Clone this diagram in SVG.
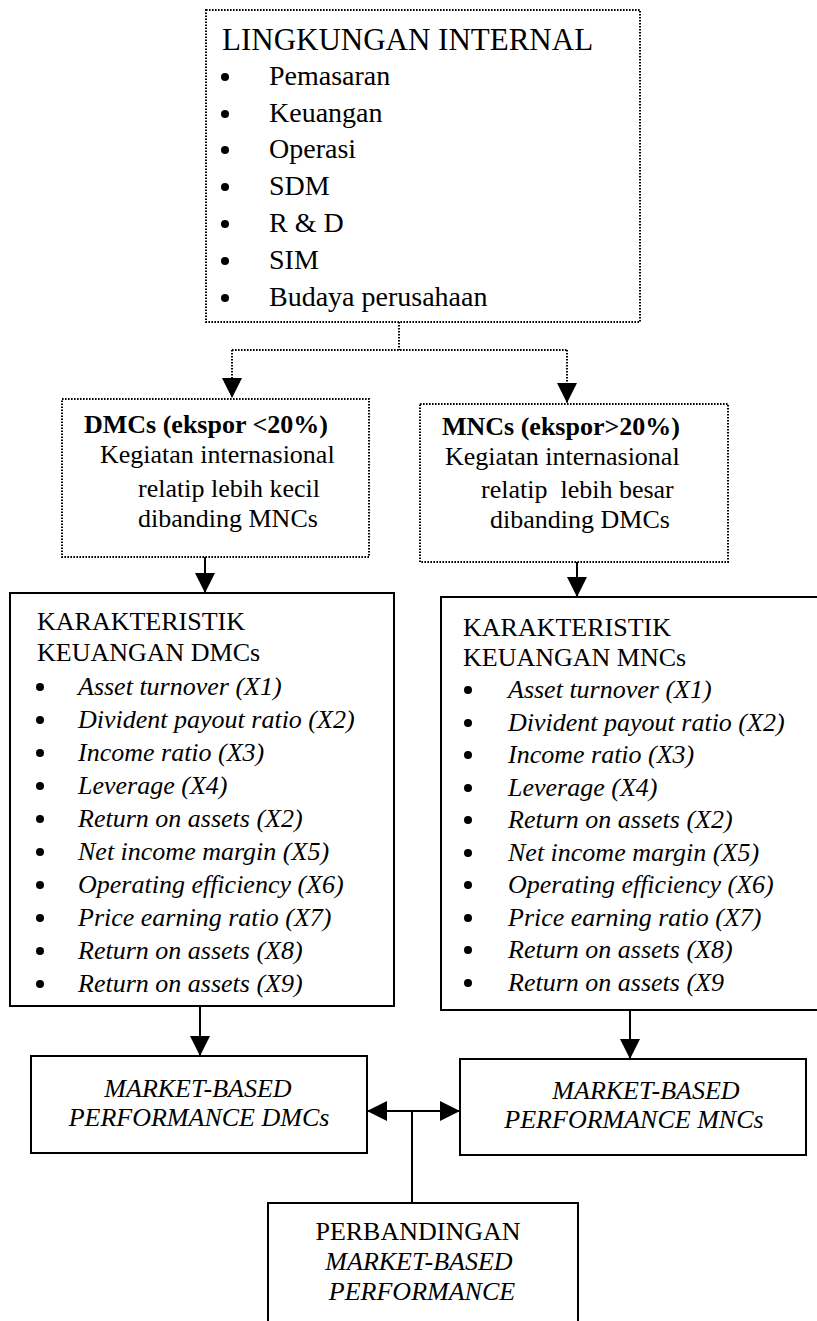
<svg xmlns="http://www.w3.org/2000/svg" width="817" height="1321" viewBox="0 0 817 1321">
<style>
text{font-family:"Liberation Serif","Times New Roman",serif;fill:#000;white-space:pre}
.t{font-size:26px}
.it{font-style:italic}
.b{font-weight:bold}
.dot{fill:none;stroke:#000;stroke-width:2;stroke-dasharray:1.6 1.4}
.box{fill:#fff;stroke:#000;stroke-width:2}
.ln{fill:none;stroke:#000;stroke-width:2}
.bl{fill:#000}
</style>
<defs>
<marker id="ah" viewBox="0 0 20 20" refX="20" refY="10" markerWidth="20" markerHeight="20" markerUnits="userSpaceOnUse" orient="auto-start-reverse">
<path d="M0,0 L20,10 L0,20 z" fill="#000"/>
</marker>
</defs>
<rect width="817" height="1321" fill="#fff"/>

<g id="connectors">
<path class="dot" d="M399,322 V350 M232,350 H567"/>
<path class="dot" d="M232,350 V398" marker-end="url(#ah)"/>
<path class="dot" d="M567,350 V403" marker-end="url(#ah)"/>
<path class="ln" d="M205,557 V593" marker-end="url(#ah)"/>
<path class="ln" d="M577,562 V597" marker-end="url(#ah)"/>
<path class="ln" d="M200,1006 V1056" marker-end="url(#ah)"/>
<path class="ln" d="M630,1010 V1059" marker-end="url(#ah)"/>
<path class="ln" d="M367,1111 H460" marker-start="url(#ah)" marker-end="url(#ah)"/>
<path class="ln" d="M412,1111 V1203"/>
</g>

<g id="lingkungan">
<rect class="dot" x="206" y="10" width="434" height="312"/>
<text x="222" y="50" style="font-size:31px">LINGKUNGAN INTERNAL</text>
<g class="bl">
<circle cx="225" cy="77" r="4"/><circle cx="225" cy="114" r="4"/><circle cx="225" cy="150" r="4"/><circle cx="225" cy="187" r="4"/><circle cx="225" cy="224" r="4"/><circle cx="225" cy="261" r="4"/><circle cx="225" cy="298" r="4"/>
</g>
<g style="font-size:28px">
<text x="269" y="85">Pemasaran</text>
<text x="269" y="122">Keuangan</text>
<text x="269" y="158">Operasi</text>
<text x="269" y="195">SDM</text>
<text x="269" y="232">R &amp; D</text>
<text x="269" y="269">SIM</text>
<text x="269" y="306">Budaya perusahaan</text>
</g>
</g>

<g id="dmc">
<rect class="dot" x="62" y="399" width="307" height="158"/>
<text class="t b" x="84" y="433">DMCs (ekspor &lt;20%)</text>
<text class="t" x="100" y="463">Kegiatan internasional</text>
<text class="t" x="138" y="497">relatip lebih kecil</text>
<text class="t" x="138" y="527">dibanding MNCs</text>
</g>

<g id="mnc">
<rect class="dot" x="420" y="404" width="308" height="158"/>
<text class="t b" x="442" y="435">MNCs (ekspor&gt;20%)</text>
<text class="t" x="445" y="465">Kegiatan internasional</text>
<text class="t" x="481" y="498">relatip  lebih besar</text>
<text class="t" x="490" y="528">dibanding DMCs</text>
</g>

<g id="karakteristik-dmc">
<rect class="box" x="10" y="593" width="384" height="413"/>
<text class="t" x="37" y="630">KARAKTERISTIK</text>
<text class="t" x="37" y="661">KEUANGAN DMCs</text>
<g class="bl">
<circle cx="40" cy="687" r="4"/><circle cx="40" cy="720" r="4"/><circle cx="40" cy="753" r="4"/><circle cx="40" cy="786" r="4"/><circle cx="40" cy="819" r="4"/><circle cx="40" cy="852" r="4"/><circle cx="40" cy="885" r="4"/><circle cx="40" cy="918" r="4"/><circle cx="40" cy="951" r="4"/><circle cx="40" cy="984" r="4"/>
</g>
<g class="t it">
<text x="78" y="695">Asset turnover (X1)</text>
<text x="78" y="728">Divident payout ratio (X2)</text>
<text x="78" y="761">Income ratio (X3)</text>
<text x="78" y="794">Leverage (X4)</text>
<text x="78" y="827">Return on assets (X2)</text>
<text x="78" y="860">Net income margin (X5)</text>
<text x="78" y="893">Operating efficiency (X6)</text>
<text x="78" y="926">Price earning ratio (X7)</text>
<text x="78" y="959">Return on assets (X8)</text>
<text x="78" y="992">Return on assets (X9)</text>
</g>
</g>

<g id="karakteristik-mnc">
<rect class="box" x="441" y="597" width="390" height="413"/>
<text class="t" x="463" y="636">KARAKTERISTIK</text>
<text class="t" x="463" y="666">KEUANGAN MNCs</text>
<g class="bl">
<circle cx="468" cy="690" r="4"/><circle cx="468" cy="723" r="4"/><circle cx="468" cy="755" r="4"/><circle cx="468" cy="788" r="4"/><circle cx="468" cy="820" r="4"/><circle cx="468" cy="853" r="4"/><circle cx="468" cy="885" r="4"/><circle cx="468" cy="918" r="4"/><circle cx="468" cy="950" r="4"/><circle cx="468" cy="983" r="4"/>
</g>
<g class="t it">
<text x="508" y="698">Asset turnover (X1)</text>
<text x="508" y="731">Divident payout ratio (X2)</text>
<text x="508" y="763">Income ratio (X3)</text>
<text x="508" y="796">Leverage (X4)</text>
<text x="508" y="828">Return on assets (X2)</text>
<text x="508" y="861">Net income margin (X5)</text>
<text x="508" y="893">Operating efficiency (X6)</text>
<text x="508" y="926">Price earning ratio (X7)</text>
<text x="508" y="958">Return on assets (X8)</text>
<text x="508" y="991">Return on assets (X9</text>
</g>
</g>

<g id="market-dmc">
<rect class="box" x="31" y="1056" width="336" height="97"/>
<text class="t it" x="198" y="1097" text-anchor="middle">MARKET-BASED</text>
<text class="t it" x="199" y="1126" text-anchor="middle">PERFORMANCE DMCs</text>
</g>

<g id="market-mnc">
<rect class="box" x="460" y="1059" width="346" height="96"/>
<text class="t it" x="646" y="1099" text-anchor="middle">MARKET-BASED</text>
<text class="t it" x="634" y="1128" text-anchor="middle">PERFORMANCE MNCs</text>
</g>

<g id="perbandingan">
<rect class="box" x="268" y="1203" width="310" height="130"/>
<text class="t" x="418" y="1240" text-anchor="middle">PERBANDINGAN</text>
<text class="t it" x="419" y="1270" text-anchor="middle">MARKET-BASED</text>
<text class="t it" x="422" y="1300" text-anchor="middle">PERFORMANCE</text>
</g>
</svg>
